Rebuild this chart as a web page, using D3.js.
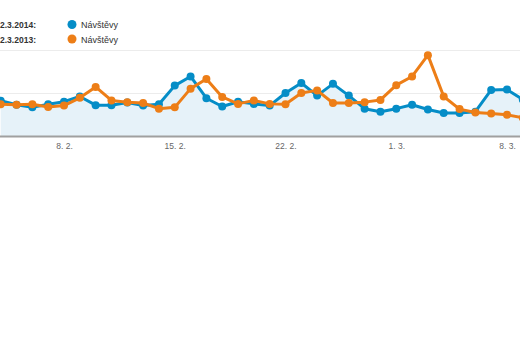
<!DOCTYPE html>
<html>
<head>
<meta charset="utf-8">
<script src="https://cdn.jsdelivr.net/npm/d3@7/dist/d3.min.js"></script>
<style>
  html, body { margin: 0; padding: 0; background: #fff; }
  svg { display: block; font-family: Arial, "Liberation Sans", sans-serif; }
</style>
</head>
<body>
<svg id="chart" width="520" height="350"></svg>
<script>
// ---- data ----
const dates = [
  "2014-02-04","2014-02-05","2014-02-06","2014-02-07","2014-02-08","2014-02-09","2014-02-10",
  "2014-02-11","2014-02-12","2014-02-13","2014-02-14","2014-02-15","2014-02-16","2014-02-17",
  "2014-02-18","2014-02-19","2014-02-20","2014-02-21","2014-02-22","2014-02-23","2014-02-24",
  "2014-02-25","2014-02-26","2014-02-27","2014-02-28","2014-03-01","2014-03-02","2014-03-03",
  "2014-03-04","2014-03-05","2014-03-06","2014-03-07","2014-03-08","2014-03-09"
];
const visits2014 = [82,73,67,74,80,92,72,72,78,71,74,117,138,88,69,80,75,71,100,123,94,121,94,64,57,64,73,62,54,54,57,107,108,85];
const visits2013 = [74,73,74,68,71,89,114,83,79,77,64,67,110,132,91,75,83,75,74,100,106,77,77,79,84,118,138,187,92,63,55,53,50,43];
const tickDates = ["2014-02-08","2014-02-15","2014-02-22","2014-03-01","2014-03-08"];
const yTicks = [0,100,200];
const legendLabels = ["2.3.2014:","2.3.2013:"];
const seriesName = "Návštěvy";

// ---- layout ----
const svg = d3.select("#chart");
const colors = ["#058dc7","#ed7e17"];
const parse = d3.utcParse("%Y-%m-%d");
const dts = dates.map(parse);

const x = d3.scaleUtc()
  .domain([parse("2014-02-08"), parse("2014-03-08")])
  .range([64, 507]);
const y = d3.scaleLinear().domain([0, 200]).range([136.5, 49.5]);

// gridlines
svg.append("g").selectAll("line").data(yTicks.filter(v => v > 0)).join("line")
  .attr("x1", 0).attr("x2", 520)
  .attr("y1", d => Math.round(y(d)) + 0.5).attr("y2", d => Math.round(y(d)) + 0.5)
  .attr("stroke", "#ececec").attr("stroke-width", 1);

// area
const s1 = dts.map((d, i) => ({d, v: visits2014[i]}));
const s2 = dts.map((d, i) => ({d, v: visits2013[i]}));
svg.append("path").datum(s1)
  .attr("d", d3.area().x(p => x(p.d)).y0(y(0)).y1(p => y(p.v)))
  .attr("fill", "#e6f2f9");

// baseline
svg.append("line").attr("x1", 0).attr("x2", 520)
  .attr("y1", y(0)).attr("y2", y(0))
  .attr("stroke", "#a0a0a0").attr("stroke-width", 2);

// x axis
const xAxis = d3.axisBottom(x)
  .tickValues(tickDates.map(parse))
  .tickFormat(d3.utcFormat("%-d. %-m."))
  .tickSize(0).tickPadding(6);
const gx = svg.append("g").attr("transform", `translate(0,${y(0)})`).call(xAxis);
gx.select(".domain").remove();
gx.selectAll("text").attr("fill", "#666").attr("font-size", 8.5)
  .attr("font-family", "Arial, 'Liberation Sans', sans-serif");

// lines + points
const line = d3.line().x(p => x(p.d)).y(p => y(p.v));
[s1, s2].forEach((s, i) => {
  const g = svg.append("g");
  g.append("path").datum(s).attr("d", line)
    .attr("fill", "none").attr("stroke", colors[i]).attr("stroke-width", 3)
    .attr("stroke-linejoin", "round");
  g.selectAll("circle").data(s).join("circle")
    .attr("cx", p => x(p.d)).attr("cy", p => y(p.v)).attr("r", 4)
    .attr("fill", colors[i]);
});

// legend
const lg = svg.append("g");
legendLabels.forEach((lab, i) => {
  const cy = 24.5 + i * 14.5;
  lg.append("text").attr("x", 0).attr("y", cy + 3.5)
    .attr("font-size", 9.5).attr("font-weight", "bold").attr("fill", "#333")
    .attr("textLength", 36).attr("lengthAdjust", "spacingAndGlyphs").text(lab);
  lg.append("circle").attr("cx", 72).attr("cy", cy).attr("r", 4.5).attr("fill", colors[i]);
  lg.append("text").attr("x", 81).attr("y", cy + 3.5)
    .attr("font-size", 9).attr("fill", "#333").text(seriesName);
});
</script>
</body>
</html>
